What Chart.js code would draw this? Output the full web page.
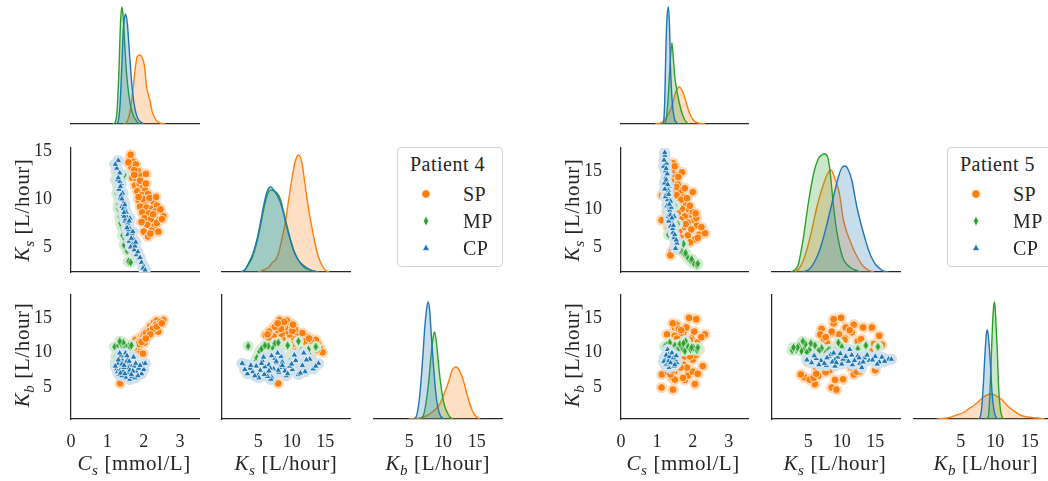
<!DOCTYPE html>
<html><head><meta charset="utf-8">
<script src="https://cdn.jsdelivr.net/npm/chart.js@4.4.1/dist/chart.umd.min.js"></script>
<style>
html,body{margin:0;padding:0;background:#fff;}
body{width:1048px;height:481px;position:relative;overflow:hidden;font-family:"Liberation Serif","Times New Roman",serif;color:#262626;}
canvas.p{position:absolute;}
.lab{position:absolute;white-space:nowrap;font-size:21px;letter-spacing:0.6px;line-height:24px;}
.lab sub{font-size:72%;vertical-align:-0.3em;line-height:0}
.leg{position:absolute;box-sizing:border-box;width:106px;height:120px;border:1px solid #d2d2d2;border-radius:4px;background:#fff;font-size:20px;letter-spacing:0.5px}
.leg .t{position:absolute;left:12px;top:4px;white-space:nowrap;line-height:24px}
.leg .r{position:absolute;left:0;width:100%;height:24px}
.leg svg{position:absolute;left:22px;top:6px}
.leg span{position:absolute;left:65px;top:0;line-height:24px}
</style></head><body>
<script>
// ---------------- data ----------------
const SERIES = ['SP', 'MP', 'CP'];
const TICKS_CS = [0, 1, 2, 3];
const TICKS_K = [5, 10, 15];
const LABEL_CS = ['C', 's', ' [mmol/L]'];
const LABEL_KS = ['K', 's', ' [L/hour]'];
const LABEL_KB = ['K', 'b', ' [L/hour]'];

// Patient 4 posterior samples (Cs, Ks, Kb)
const P4_SP_Cs = [1.62,1.70,1.66,1.78,1.72,1.84,1.68,1.80,1.92,1.76,1.88,1.98,1.82,2.04,1.94,2.12,1.86,2.00,2.18,2.28,1.90,2.08,2.24,2.36,1.96,2.14,2.32,2.54,2.02,2.20,2.42,2.10,2.30,2.00,2.22,2.40,2.12,1.35,1.74,1.98,1.64,1.58,1.74,1.90,2.06,1.86,2.16,2.34,2.26,2.46,1.94,2.36,2.18,2.50,2.06];
const P4_SP_Ks = [14.2,13.9,13.3,13.6,12.8,12.9,12.2,12.1,12.4,11.4,11.6,11.2,10.8,10.9,10.4,10.5,9.9,9.7,9.9,9.6,9.2,9.1,9.0,9.3,8.6,8.5,8.7,8.2,8.0,7.9,7.8,7.3,7.2,6.6,6.7,6.6,6.1,8.0,13.0,10.0,14.6,13.8,12.5,11.9,11.6,10.2,10.1,10.2,8.4,8.9,7.6,7.5,6.4,7.9,12.6];
const P4_SP_Kb = [10.6,11.2,10.2,11.8,10.9,11.5,9.9,11.0,12.2,10.5,11.7,12.4,10.2,12.9,11.9,13.3,10.8,12.6,13.8,14.3,11.1,13.0,13.6,14.6,12.0,12.7,14.0,14.7,11.4,13.2,14.1,12.3,13.5,11.8,12.9,13.0,12.5,5.5,9.6,9.8,10.0,10.4,10.7,11.6,12.8,11.2,13.1,14.0,13.4,14.4,11.5,13.7,12.6,14.2,12.0];
const P4_MP_Cs = [1.20,1.24,1.22,1.28,1.26,1.32,1.30,1.36,1.34,1.40,1.38,1.44,1.42,1.48,1.46,1.54,1.58,1.64,1.36,1.50,1.30,1.44,1.60,1.72,1.40,1.52,1.34,1.66,1.50,1.46];
const P4_MP_Ks = [13.6,12.8,12.0,11.4,10.6,10.0,9.4,8.8,8.2,7.8,7.2,6.8,6.2,5.8,5.2,4.6,3.5,3.4,7.5,6.5,9.0,8.0,5.5,4.8,9.8,7.0,11.0,6.0,7.6,12.5];
const P4_MP_Kb = [10.8,9.4,8.6,10.2,8.0,9.6,11.0,8.4,9.9,7.6,10.6,8.9,9.3,7.9,10.1,8.7,10.9,8.2,11.3,10.9,8.0,11.4,10.5,9.2,8.8,9.6,11.6,11.0,10.0,10.4];
const P4_CP_Cs = [1.30,1.26,1.34,1.28,1.38,1.32,1.42,1.36,1.46,1.40,1.50,1.44,1.54,1.48,1.58,1.52,1.60,1.56,1.66,1.60,1.70,1.64,1.74,1.80,1.86,1.94,2.00,1.98,1.50,1.62,1.44,1.56,1.68,1.52,1.72,1.38,1.58,1.76,1.46,1.34,2.04,1.22,1.30,1.36,1.40,1.48,1.46,1.62,1.54,1.70,1.66,1.78,1.84,1.90,1.60];
const P4_CP_Ks = [14.0,13.2,12.7,12.0,11.6,11.0,10.6,10.1,9.7,9.2,8.9,8.4,8.1,7.7,7.3,7.0,6.6,6.3,6.0,5.6,5.3,5.0,4.7,4.2,3.8,3.4,3.0,2.8,7.9,6.9,9.0,7.5,6.4,8.6,5.8,10.4,6.8,5.1,8.2,11.8,2.6,13.6,12.2,11.3,10.0,9.4,8.6,8.0,7.0,6.6,5.9,5.5,4.5,3.9,7.7];
const P4_CP_Kb = [8.4,7.6,9.0,7.2,8.1,6.8,8.8,7.5,8.0,6.6,7.8,9.4,7.1,8.5,7.6,6.4,8.2,7.0,7.9,8.8,7.4,6.7,8.0,7.2,7.7,6.9,7.5,8.3,9.9,6.1,7.3,9.1,6.5,8.6,9.3,9.6,7.7,6.3,7.8,9.9,8.4,8.0,8.9,7.0,8.3,6.9,8.1,7.4,9.5,7.3,6.8,8.4,6.6,8.1,8.7];

// Patient 5 posterior samples (Cs, Ks, Kb)
const P5_SP_Cs = [1.45,1.50,1.40,1.58,1.48,1.66,1.14,1.55,1.74,1.36,1.62,1.82,1.48,1.70,1.90,1.28,1.58,1.96,1.78,1.44,1.66,2.04,1.86,1.52,2.12,1.74,1.96,2.28,1.62,2.18,1.86,2.34,1.42,2.06,1.13,1.45,1.50,1.31,1.73,2.00,2.10,1.38,2.00,1.70,1.56,1.42,1.50,1.60,1.54,1.78,1.68,1.84,1.56,1.92,2.08,1.80,2.24,1.66,1.92,2.14];
const P5_SP_Ks = [16.0,14.5,13.6,13.2,12.6,12.4,11.8,11.8,11.5,11.0,10.8,10.6,10.2,10.0,9.9,9.6,9.4,9.2,9.0,8.8,8.6,8.5,8.2,8.0,7.8,7.6,7.3,7.0,7.0,6.6,6.5,6.8,4.4,6.0,8.5,9.2,5.2,7.6,5.8,9.6,8.8,3.9,12.2,14.8,5.0,15.0,15.6,14.2,12.9,12.7,11.2,11.4,10.5,10.4,9.4,8.0,7.6,6.2,5.6,6.2];
const P5_SP_Kb = [11.1,13.6,9.0,13.6,7.2,11.6,6.8,14.0,12.9,10.4,8.6,13.6,6.1,9.8,15.0,12.6,11.2,10.4,6.0,14.2,12.8,13.0,7.4,9.6,11.4,8.2,12.0,8.0,13.4,10.4,6.6,12.6,6.4,5.4,4.9,4.6,6.05,7.1,6.3,8.95,14.8,6.8,7.2,11.2,8.6,7.4,12.4,10.2,11.9,9.4,13.2,7.8,12.0,11.8,9.6,10.6,12.2,7.8,9.4,6.9];
const P5_MP_Cs = [1.70,1.78,1.86,1.94,2.02,2.12,1.30,1.34,1.38,1.40,1.42,1.44,1.46,1.48,1.50,1.52,1.56,1.60,1.97,2.14,1.36,1.64,1.80,1.26,1.22,1.32,1.58,1.74,1.28,1.50];
const P5_MP_Ks = [4.4,4.0,3.6,3.2,2.9,2.6,12.4,11.0,10.0,9.0,8.2,7.6,7.0,6.4,6.0,5.6,5.2,4.8,3.4,2.8,9.5,4.6,4.2,13.6,15.4,6.6,8.0,5.4,11.8,10.4];
const P5_MP_Kb = [10.6,10.2,10.9,10.4,10.7,10.3,10.5,10.0,10.8,9.7,10.4,9.9,10.6,10.1,11.0,9.6,10.4,10.0,10.7,10.7,11.4,11.2,11.6,11.0,10.8,10.2,10.3,11.3,9.8,10.1];
const P5_CP_Cs = [1.22,1.19,1.24,1.25,1.21,1.28,1.26,1.30,1.31,1.28,1.34,1.36,1.32,1.40,1.42,1.38,1.45,1.48,1.56,1.52,1.30,1.34,1.27,1.36,1.24,1.40,1.32,1.44,1.29,1.38,1.33,1.26,1.48,1.22,1.22,1.20,1.26,1.30,1.33,1.35,1.38,1.42,1.46,1.50,1.54];
const P5_CP_Ks = [17.0,15.6,15.0,14.1,13.4,12.7,12.0,11.5,10.8,10.4,10.0,9.4,9.0,8.6,8.1,7.7,6.9,6.2,5.5,4.8,11.2,13.0,16.0,9.8,11.6,10.2,12.4,7.4,14.6,11.0,8.4,15.3,9.0,12.6,17.4,16.4,13.8,13.2,11.9,10.6,9.2,8.8,7.8,6.6,5.9];
const P5_CP_Kb = [9.0,8.6,9.4,8.8,9.2,8.4,9.0,9.6,8.7,9.1,8.3,9.3,8.9,8.6,9.4,8.1,8.8,9.1,8.5,8.9,10.4,7.8,9.3,9.8,8.2,9.0,9.5,8.4,8.9,8.7,9.7,8.3,8.0,9.2,9.0,8.7,9.6,8.6,8.8,9.4,8.5,9.9,9.2,8.2,9.5];

// Diagonal density curves [value, relative density]
const P4_KDE_Cs_SP = [[1.45,0],[1.55,3],[1.62,12],[1.67,24],[1.72,40],[1.76,54],[1.82,67],[1.90,69],[1.96,66],[2.01,60],[2.05,48],[2.08,37],[2.13,29],[2.18,22],[2.22,14],[2.29,7],[2.36,3],[2.45,1],[2.6,0]];
const P4_KDE_Cs_MP = [[1.15,0],[1.22,2],[1.27,15],[1.32,55],[1.36,100],[1.40,117],[1.44,105],[1.48,78],[1.53,50],[1.58,32],[1.65,16],[1.72,8],[1.80,3],[1.88,0]];
const P4_KDE_Cs_CP = [[1.25,0],[1.30,3],[1.35,20],[1.40,60],[1.44,95],[1.48,108],[1.50,110],[1.55,100],[1.60,75],[1.65,50],[1.70,30],[1.76,15],[1.83,6],[1.92,2],[2.0,0]];
const P4_KDE_Ks_SP = [[5.0,0],[5.8,2],[6.6,5],[7.2,10],[7.6,12],[8.0,18],[8.5,32],[9.0,48],[9.5,70],[10.0,92],[10.5,110],[11.0,117],[11.5,110],[12.0,87],[12.5,64],[13.0,45],[13.5,28],[14.0,15],[14.5,7],[15.0,2],[15.6,0]];
const P4_KDE_Ks_MP = [[2.4,0],[3.0,2],[3.5,7],[4.2,16],[4.8,30],[5.3,45],[5.8,62],[6.3,76],[6.9,82],[7.4,81],[7.8,79],[8.3,73],[8.8,60],[9.3,46],[9.8,33],[10.3,22],[10.9,13],[11.5,7],[12.3,3],[13.2,1],[14.0,0]];
const P4_KDE_Ks_CP = [[2.4,0],[3.0,2],[3.5,8],[4.2,18],[4.8,32],[5.3,48],[5.8,66],[6.3,80],[6.9,85],[7.4,81],[7.8,77],[8.3,70],[8.8,58],[9.3,44],[9.8,32],[10.3,21],[10.9,13],[11.5,8],[12.3,4],[13.2,1],[14.0,0]];
const P4_KDE_Kb_SP = [[4.9,0],[6.5,1],[7.5,3],[8.6,8],[9.2,12],[9.6,16],[10.1,24],[10.6,33],[11.0,41],[11.3,48],[11.6,51],[11.9,52],[12.3,50],[12.8,43],[13.2,34],[13.5,26],[13.9,17],[14.3,9],[14.7,4],[15.0,2],[15.5,0]];
const P4_KDE_Kb_MP = [[6.6,0],[7.0,2],[7.4,13],[7.9,39],[8.2,62],[8.5,80],[8.72,87],[9.0,78],[9.36,53],[9.6,38],[9.85,26],[10.2,14],[10.6,7],[11.0,2],[11.5,0]];
const P4_KDE_Kb_CP = [[5.6,0],[6.0,2],[6.4,15],[6.7,35],[7.0,62],[7.3,92],[7.6,112],[7.8,117],[8.0,110],[8.3,80],[8.6,52],[8.9,28],[9.2,13],[9.5,5],[9.9,1],[10.3,0]];
const P5_KDE_Cs_SP = [[0.95,0],[1.1,1],[1.2,3],[1.27,7],[1.35,12],[1.41,17],[1.46,23],[1.50,29],[1.55,34],[1.62,37],[1.68,35],[1.73,31],[1.78,26],[1.82,21],[1.88,14],[1.96,7],[2.04,3],[2.15,1],[2.35,0]];
const P5_KDE_Cs_MP = [[1.2,0],[1.26,5],[1.31,24],[1.36,54],[1.39,72],[1.42,81],[1.46,65],[1.50,47],[1.55,35],[1.59,27],[1.64,19],[1.69,12],[1.74,7],[1.78,4],[1.87,0]];
const P5_KDE_Cs_CP = [[1.15,0],[1.19,3],[1.22,25],[1.25,74],[1.28,105],[1.32,117],[1.35,100],[1.38,57],[1.41,32],[1.44,17],[1.47,9],[1.50,4],[1.56,1],[1.62,0]];
const P5_KDE_Ks_SP = [[3.0,0],[3.6,3],[4.3,12],[5.3,35],[6.3,65],[7.0,82],[7.8,97],[8.4,102],[9.0,93],[9.5,83],[9.8,73],[10.2,54],[10.7,41],[11.2,32],[11.8,22],[12.5,13],[13.2,6],[14.0,2],[14.8,0]];
const P5_KDE_Ks_MP = [[2.4,0],[3.0,2],[3.5,7],[4.3,35],[5.0,68],[5.8,98],[6.5,113],[7.0,117],[7.5,118],[7.9,115],[8.2,104],[8.5,85],[8.75,68],[9.1,48],[9.5,32],[9.9,20],[10.3,12],[11.2,5],[12.0,2],[12.8,0]];
const P5_KDE_Ks_CP = [[4.2,0],[5.2,3],[6.3,15],[7.0,28],[7.8,48],[8.3,62],[8.8,76],[9.5,95],[10.0,104],[10.5,106],[11.0,102],[11.5,92],[11.9,78],[12.3,64],[13.0,45],[13.5,33],[14.0,22],[14.5,14],[15.0,8],[15.6,4],[16.2,1],[17.0,0]];
const P5_KDE_Kb_SP = [[1.5,0],[3.0,1],[4.4,4],[5.5,7],[6.3,11],[7.0,14],[7.8,19],[8.5,23],[9.4,25],[10.2,23],[11.0,19],[11.8,13],[12.7,8],[13.6,4],[14.7,2],[16.0,1],[17.2,0]];
const P5_KDE_Kb_MP = [[8.7,0],[9.0,3],[9.2,23],[9.4,58],[9.6,95],[9.8,115],[9.9,117],[10.05,102],[10.26,73],[10.5,29],[10.75,9],[11.0,2],[11.3,0]];
const P5_KDE_Kb_CP = [[7.6,0],[7.85,3],[8.05,13],[8.3,39],[8.5,65],[8.7,85],[8.85,89],[9.0,82],[9.28,56],[9.53,26],[9.8,9],[10.1,2],[10.4,0]];

// ---------------- styling ----------------
const COLORS = {SP: '#ff7f0e', MP: '#2ca02c', CP: '#1f77b4'};
const HALO = {SP: '#fdd9b6', MP: '#d3ebd3', CP: '#cfe0ee'};
const FILLS = {SP: 'rgba(255,127,14,0.25)', MP: 'rgba(44,160,44,0.25)', CP: 'rgba(31,119,180,0.25)'};
const ORDER = {SP: 3, MP: 2, CP: 1};
const INK = '#262626';
const TICKFONT = {family: '"Liberation Serif", serif', size: 18};
const PL = 60, PR = 14, PT = 26, PB = 38;

function diamondImg(color) {
  const c = document.createElement('canvas'); c.width = 7; c.height = 11;
  const g = c.getContext('2d');
  g.beginPath(); g.moveTo(3.5, 0.5); g.lineTo(6.3, 5.5); g.lineTo(3.5, 10.5); g.lineTo(0.7, 5.5); g.closePath();
  g.fillStyle = color; g.fill(); g.strokeStyle = '#fff'; g.lineWidth = 0.7; g.stroke();
  return c;
}
const DIAMOND = diamondImg(COLORS.MP);
const STYLE = {SP: 'circle', MP: DIAMOND, CP: 'triangle'};
const RADIUS = {SP: 3.9, MP: 4, CP: 3.9};

function axis(range, ticks, border, pad) {
  return {
    type: 'linear', min: range[0], max: range[1],
    grid: {display: false},
    border: {display: border, color: INK, width: 1.25},
    ticks: {display: ticks.length > 0, font: TICKFONT, color: INK, padding: pad || 0, maxRotation: 0, autoSkip: false},
    afterBuildTicks: s => { s.ticks = ticks.map(v => ({value: v})); }
  };
}
function scat(xs, ys, key) {
  const data = xs.map((v, i) => ({x: v, y: ys[i]}));
  return [
    {label: key + ' halo', data, order: ORDER[key] + 0.5, pointStyle: 'circle', pointRadius: 5.6,
      backgroundColor: HALO[key], borderWidth: 0, showLine: false},
    {label: key, data, order: ORDER[key], pointStyle: STYLE[key], pointRadius: RADIUS[key],
      backgroundColor: COLORS[key], borderColor: '#ffffff', borderWidth: 0.7, showLine: false}
  ];
}
function kde(arr, key) {
  return {label: key, data: arr.map(p => ({x: p[0], y: p[1]})), order: ORDER[key],
    showLine: true, pointRadius: 0, borderColor: COLORS[key], borderWidth: 1.4,
    backgroundColor: FILLS[key], fill: 'origin', cubicInterpolationMode: 'monotone'};
}
function panel(l, t, w, h, datasets, x, y) {
  const c = document.createElement('canvas');
  c.className = 'p'; c.width = w + PL + PR; c.height = h + PT + PB;
  c.style.left = (l - PL) + 'px'; c.style.top = (t - PT) + 'px';
  document.body.appendChild(c);
  x.position = 'bottom'; y.position = 'left';
  x.afterFit = s => { s.height = PB; };
  y.afterFit = s => { s.width = PL; };
  return new Chart(c, {type: 'scatter', data: {datasets},
    options: {responsive: false, animation: false, events: [],
      layout: {padding: {left: 0, right: PR, top: PT, bottom: 0}},
      plugins: {legend: {display: false}, tooltip: {enabled: false}},
      scales: {x, y}}});
}
function label(parts, cx, cy, rotate) {
  const d = document.createElement('div'); d.className = 'lab';
  d.innerHTML = '<i>' + parts[0] + '<sub>' + parts[1] + '</sub></i>' + parts[2];
  document.body.appendChild(d);
  const w = d.offsetWidth, h = d.offsetHeight;
  d.style.left = (cx - w / 2) + 'px'; d.style.top = (cy - h / 2) + 'px';
  if (rotate) d.style.transform = 'rotate(-90deg)';
}
const MARKER_SVG = {
  SP: '<svg width="12" height="12"><circle cx="6" cy="6" r="4.2" fill="#ff7f0e" stroke="#fff" stroke-width="0.7"/></svg>',
  MP: '<svg width="12" height="12"><polygon points="6,0.8 8.6,6 6,11.2 3.4,6" fill="#2ca02c" stroke="#fff" stroke-width="0.7"/></svg>',
  CP: '<svg width="12" height="12"><polygon points="6,2 9.6,8.6 2.4,8.6" fill="#1f77b4" stroke="#fff" stroke-width="0.7"/></svg>'
};
function legend(left, top, title) {
  const d = document.createElement('div'); d.className = 'leg';
  d.style.left = left + 'px'; d.style.top = top + 'px';
  let html = '<div class="t">' + title + '</div>';
  const cy = [46, 72.5, 100];
  SERIES.forEach((s, i) => {
    html += '<div class="r" style="top:' + (cy[i] - 12) + 'px">' + MARKER_SVG[s] + '<span>' + s + '</span></div>';
  });
  d.innerHTML = html;
  document.body.appendChild(d);
}

function buildPatient(P) {
  const T = [0, 148, 295], H = 124, DY = [0, 124];
  const L = P.L, W = P.W;
  const kd = (m) => SERIES.map(s => kde(m[s], s));
  const sc = (a, b) => SERIES.flatMap(s => scat(P.d[s][a], P.d[s][b], s));
  panel(L[0], T[0], W[0], H, kd(P.kCs), axis(P.xCs, [], true), axis(DY, [], false));
  panel(L[0], T[1], W[0], H, sc('Cs', 'Ks'), axis(P.xCs, [], true), axis(P.yKs, TICKS_K, true, 11));
  panel(L[1], T[1], W[1], H, kd(P.kKs), axis(P.xKs, [], true), axis(DY, [], false));
  panel(L[0], T[2], W[0], H, sc('Cs', 'Kb'), axis(P.xCs, TICKS_CS, true, 4), axis(P.yKb, TICKS_K, true, 11));
  panel(L[1], T[2], W[1], H, sc('Ks', 'Kb'), axis(P.xKs, TICKS_K, true, 4), axis(P.yKb, [], true));
  panel(L[2], T[2], W[2], H, kd(P.kKb), axis(P.xKb, TICKS_K, true, 4), axis(DY, [], false));
  label(LABEL_KS, L[0] - 48.5, 210, true);
  label(LABEL_KB, L[0] - 48.5, 355, true);
  label(LABEL_CS, P.xl[0], 463, false);
  label(LABEL_KS, P.xl[1], 463, false);
  label(LABEL_KB, P.xl[2], 463, false);
  legend(P.leg, 147, P.name);
}

buildPatient({
  name: 'Patient 4', L: [71, 222, 374], W: [128, 128, 128], xl: [134, 286, 438], leg: 397,
  xCs: [0, 3.52], xKs: [-0.4, 18.7], xKb: [-0.24, 18.75], yKs: [2.4, 15.3], yKb: [0.35, 18.3],
  d: {SP: {Cs: P4_SP_Cs, Ks: P4_SP_Ks, Kb: P4_SP_Kb}, MP: {Cs: P4_MP_Cs, Ks: P4_MP_Ks, Kb: P4_MP_Kb}, CP: {Cs: P4_CP_Cs, Ks: P4_CP_Ks, Kb: P4_CP_Kb}},
  kCs: {SP: P4_KDE_Cs_SP, MP: P4_KDE_Cs_MP, CP: P4_KDE_Cs_CP},
  kKs: {SP: P4_KDE_Ks_SP, MP: P4_KDE_Ks_MP, CP: P4_KDE_Ks_CP},
  kKb: {SP: P4_KDE_Kb_SP, MP: P4_KDE_Kb_MP, CP: P4_KDE_Kb_CP}
});
buildPatient({
  name: 'Patient 5', L: [621, 772, 914], W: [127, 128, 144], xl: [683, 835, 986], leg: 947,
  xCs: [0, 3.54], xKs: [-0.4, 18.7], xKb: [-1.8, 19.1], yKs: [1.7, 18.0], yKb: [0.35, 18.3],
  d: {SP: {Cs: P5_SP_Cs, Ks: P5_SP_Ks, Kb: P5_SP_Kb}, MP: {Cs: P5_MP_Cs, Ks: P5_MP_Ks, Kb: P5_MP_Kb}, CP: {Cs: P5_CP_Cs, Ks: P5_CP_Ks, Kb: P5_CP_Kb}},
  kCs: {SP: P5_KDE_Cs_SP, MP: P5_KDE_Cs_MP, CP: P5_KDE_Cs_CP},
  kKs: {SP: P5_KDE_Ks_SP, MP: P5_KDE_Ks_MP, CP: P5_KDE_Ks_CP},
  kKb: {SP: P5_KDE_Kb_SP, MP: P5_KDE_Kb_MP, CP: P5_KDE_Kb_CP}
});
</script>
</body></html>
